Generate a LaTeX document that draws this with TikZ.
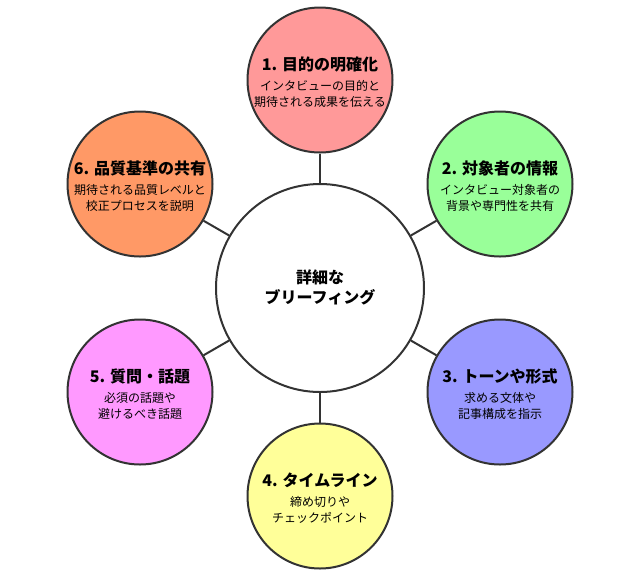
\documentclass[tikz,border=0pt]{standalone}
\usepackage{fontspec}
\setmainfont{Noto Sans CJK JP}
\usepackage{tikz}
\usetikzlibrary{arrows.meta}

\definecolor{edgegray}{HTML}{333333}
\definecolor{redfill}{HTML}{FF9999}
\definecolor{greenfill}{HTML}{99FF99}
\definecolor{bluefill}{HTML}{9999FF}
\definecolor{yellowfill}{HTML}{FFFF99}
\definecolor{pinkfill}{HTML}{FF99FF}
\definecolor{orangefill}{HTML}{FF9966}

\begin{document}
\begin{tikzpicture}[
  x=0.75pt, y=-0.75pt,
  hub/.style={draw=edgegray, line width=1.5pt, circle, fill=white, minimum size=156pt, inner sep=0pt},
  topic/.style={draw=edgegray, line width=1.5pt, circle, minimum size=108.75pt, inner sep=0pt},
  wire/.style={draw=edgegray, line width=1.5pt},
  title/.style={font=\fontsize{12}{14}\selectfont\bfseries, inner sep=0pt},
  body/.style={font=\fontsize{9}{12}\selectfont, align=center, inner sep=0pt}
]
\useasboundingbox (0,0) rectangle (636,576);

% Center circle
\node[hub] (brief) at (320,288) {};
\node[title, align=center, font=\fontsize{12}{15}\selectfont\bfseries] (briefT) at (320,287) {詳細な\\ブリーフィング};

% Outer circles
\node[topic, fill=redfill] (purpose) at (320,80) {};
\node[topic, fill=greenfill] (target) at (500,184) {};
\node[topic, fill=bluefill] (tone) at (500,392) {};
\node[topic, fill=yellowfill] (timeline) at (320,496) {};
\node[topic, fill=pinkfill] (topics) at (140,392) {};
\node[topic, fill=orangefill] (quality) at (140,184) {};

% Connectors
\draw[wire] (brief) -- (purpose);
\draw[wire] (brief) -- (target);
\draw[wire] (brief) -- (tone);
\draw[wire] (brief) -- (timeline);
\draw[wire] (brief) -- (topics);
\draw[wire] (brief) -- (quality);

% Titles
\node[title] (purposeT) at (320,64) {1. 目的の明確化};
\node[title] (targetT) at (500,168) {2. 対象者の情報};
\node[title] (toneT) at (500,376) {3. トーンや形式};
\node[title] (timelineT) at (320,480) {4. タイムライン};
\node[title] (topicsT) at (140,376) {5. 質問・話題};
\node[title] (qualityT) at (140,168) {6. 品質基準の共有};

% Descriptions
\node[body] (purposeB) at (320,94) {インタビューの目的と\\期待される成果を伝える};
\node[body] (targetB) at (500,198) {インタビュー対象者の\\背景や専門性を共有};
\node[body] (toneB) at (500,406) {求める文体や\\記事構成を指示};
\node[body] (timelineB) at (320,510) {締め切りや\\チェックポイント};
\node[body] (topicsB) at (140,406) {必須の話題や\\避けるべき話題};
\node[body] (qualityB) at (140,198) {期待される品質レベルと\\校正プロセスを説明};

\end{tikzpicture}
\end{document}
